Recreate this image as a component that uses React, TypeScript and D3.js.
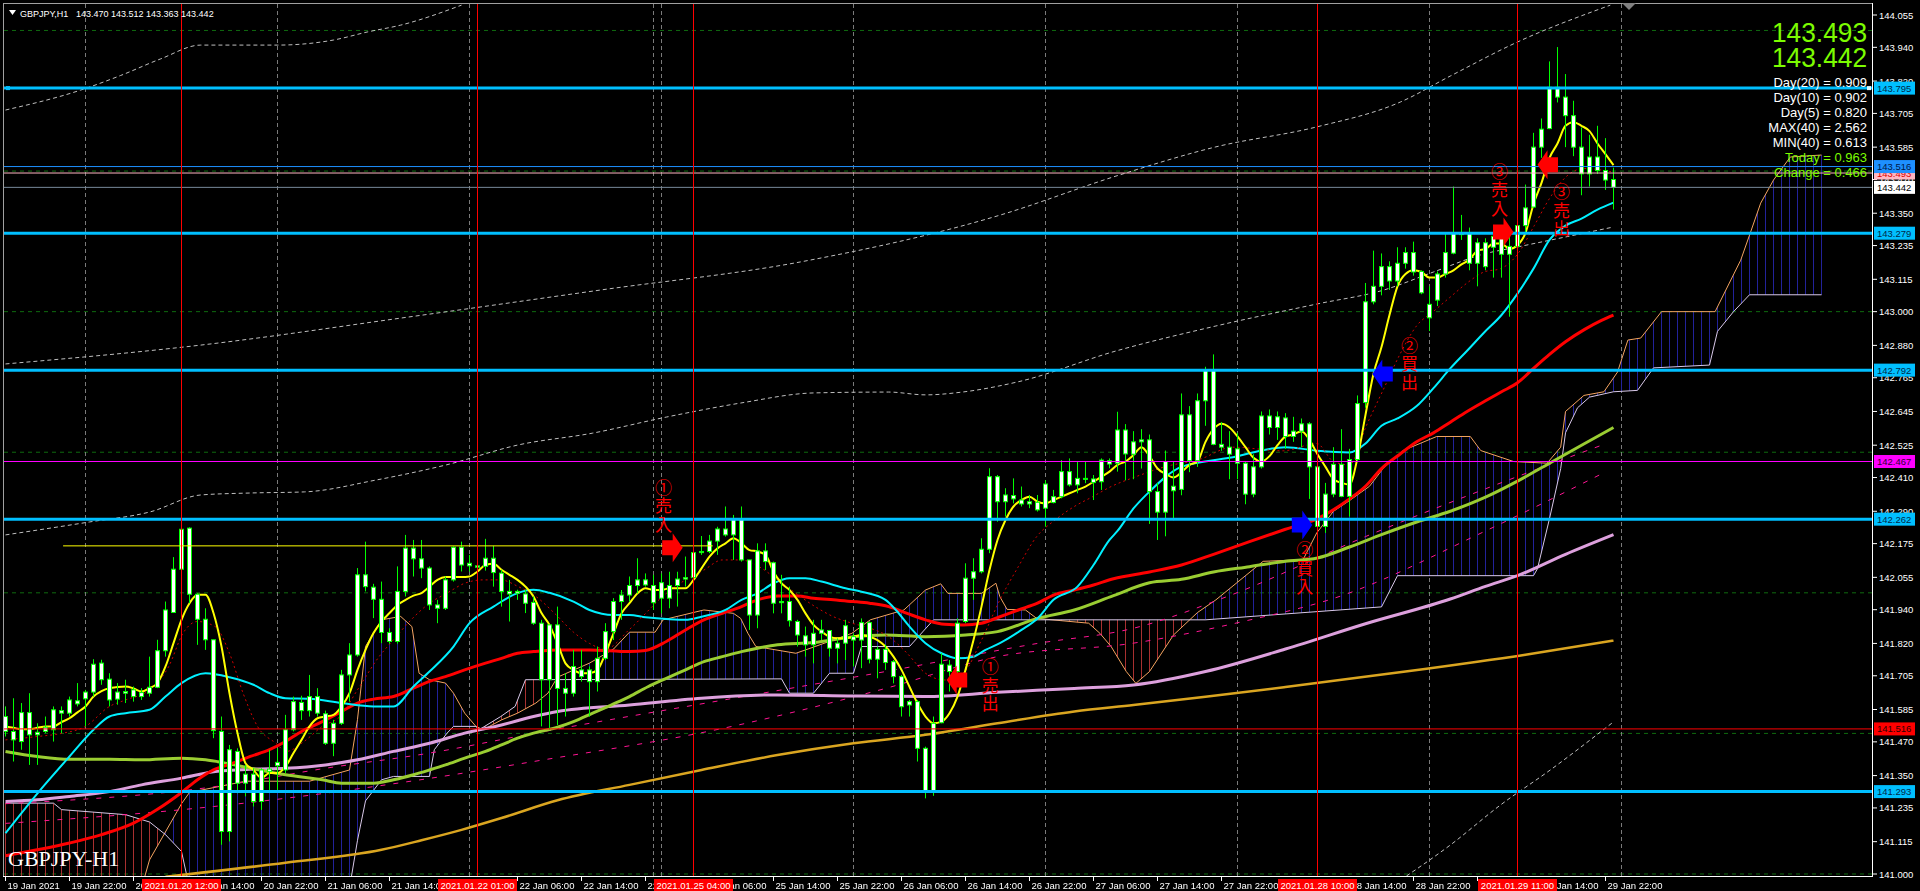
import React, { useEffect } from 'react';
import * as d3 from 'd3';

// ---------------- data ----------------
const headerSymbol = 'GBPJPY,H1';
const headerQuote = '143.470 143.512 143.363 143.442';
const watermark = 'GBPJPY-H1';
const bigQuotes = ['143.493', '143.442'];
const infoLines: [string, string][] = [
  ['Day(20) = 0.909', '#FFFFFF'], ['Day(10) = 0.902', '#FFFFFF'], ['Day(5) = 0.820', '#FFFFFF'],
  ['MAX(40) = 2.562', '#FFFFFF'], ['MIN(40) = 0.613', '#FFFFFF'], ['Today = 0.963', '#7CFC00'], ['Change = 0.466', '#7CFC00'],
];

const priceTicks = [144.055, 143.94, 143.82, 143.705, 143.585, 143.47, 143.35, 143.235, 143.115, 143.0, 142.88, 142.765, 142.645, 142.525, 142.41, 142.29, 142.175, 142.055, 141.94, 141.82, 141.705, 141.585, 141.47, 141.35, 141.235, 141.115, 141.0];

const timeLabels: [number, string][] = [
  [0, '19 Jan 2021'], [8, '19 Jan 22:00'], [16, '20 Jan 06:00'], [24, '20 Jan 14:00'], [32, '20 Jan 22:00'], [40, '21 Jan 06:00'],
  [48, '21 Jan 14:00'], [56, '21 Jan 22:00'], [64, '22 Jan 06:00'], [72, '22 Jan 14:00'], [80, '22 Jan 22:00'], [88, '25 Jan 06:00'],
  [96, '25 Jan 14:00'], [104, '25 Jan 22:00'], [112, '26 Jan 06:00'], [120, '26 Jan 14:00'], [128, '26 Jan 22:00'], [136, '27 Jan 06:00'],
  [144, '27 Jan 14:00'], [152, '27 Jan 22:00'], [160, '28 Jan 06:00'], [168, '28 Jan 14:00'], [176, '28 Jan 22:00'], [184, '29 Jan 06:00'],
  [192, '29 Jan 14:00'], [200, '29 Jan 22:00'],
];
const markerTimes: [number, string][] = [[22, '2021.01.20 12:00'], [59, '2021.01.22 01:00'], [86, '2021.01.25 04:00'], [164, '2021.01.28 10:00'], [189, '2021.01.29 11:00']];
const daySeparators = [10, 34, 58, 81, 82, 106, 130, 154, 178, 202];
const roundLevels = [141.0, 141.5, 142.0, 142.5, 143.0, 143.5, 144.0];
const cyanLevels = [143.795, 143.279, 142.792, 142.262, 141.293];
// [price, line colour, box colour, text colour]
const otherLevels: [number, string, string, string][] = [
  [143.493, '#FFB6C1', '#FFB6C1', '#E00000'],
  [143.516, '#1E90FF', '#1E90FF', '#001848'],
  [143.442, '#778899', '#FFFFFF', '#000000'],
  [142.467, '#FF00FF', '#FF00FF', '#300030'],
  [141.516, '#FF0000', '#FF0000', '#300000'],
];
const yellowLevel = { price: 142.167, from: 7.2, to: 88.4 };

// candles: [open, high, low, close]
const ohlc: [number, number, number, number][] = [
  [141.560, 141.596, 141.489, 141.507], [141.507, 141.625, 141.400, 141.477], [141.471, 141.608, 141.442, 141.574], [141.574, 141.643, 141.388, 141.495],
  [141.495, 141.536, 141.388, 141.504], [141.507, 141.560, 141.501, 141.522], [141.513, 141.596, 141.471, 141.584], [141.581, 141.596, 141.501, 141.572],
  [141.572, 141.631, 141.560, 141.619], [141.616, 141.679, 141.596, 141.605], [141.623, 141.655, 141.525, 141.647], [141.647, 141.764, 141.631, 141.746],
  [141.750, 141.762, 141.673, 141.691], [141.693, 141.714, 141.596, 141.619], [141.622, 141.679, 141.602, 141.647], [141.643, 141.691, 141.608, 141.649],
  [141.655, 141.667, 141.613, 141.631], [141.631, 141.661, 141.619, 141.645], [141.643, 141.773, 141.631, 141.664], [141.664, 141.833, 141.661, 141.794],
  [141.794, 141.969, 141.773, 141.939], [141.930, 142.127, 141.928, 142.084], [142.084, 142.319, 142.070, 142.226], [142.230, 142.233, 141.963, 141.995],
  [141.995, 141.999, 141.815, 141.906], [141.906, 141.945, 141.797, 141.833], [141.833, 141.833, 141.483, 141.510], [141.507, 141.560, 141.104, 141.151],
  [141.151, 141.459, 141.116, 141.442], [141.436, 141.447, 141.287, 141.323], [141.323, 141.388, 141.276, 141.355], [141.355, 141.376, 141.240, 141.258],
  [141.258, 141.376, 141.228, 141.370], [141.373, 141.442, 141.299, 141.365], [141.385, 141.447, 141.299, 141.397], [141.370, 141.566, 141.359, 141.513],
  [141.513, 141.631, 141.507, 141.613], [141.610, 141.634, 141.548, 141.581], [141.581, 141.708, 141.560, 141.631], [141.631, 141.661, 141.560, 141.572],
  [141.570, 141.581, 141.459, 141.465], [141.465, 141.548, 141.419, 141.536], [141.536, 141.726, 141.530, 141.708], [141.708, 141.821, 141.613, 141.779],
  [141.779, 142.088, 141.773, 142.064], [142.064, 142.182, 142.005, 142.022], [142.020, 142.032, 141.910, 141.977], [141.977, 142.040, 141.821, 141.859],
  [141.859, 141.874, 141.819, 141.827], [141.827, 142.094, 141.819, 142.005], [142.005, 142.206, 141.987, 142.159], [142.159, 142.188, 142.058, 142.121],
  [142.121, 142.188, 142.052, 142.088], [142.088, 142.094, 141.939, 141.957], [141.957, 141.975, 141.892, 141.945], [141.945, 142.058, 141.939, 142.046],
  [142.046, 142.165, 142.040, 142.162], [142.162, 142.182, 142.076, 142.099], [142.105, 142.135, 142.076, 142.096], [142.096, 142.129, 142.082, 142.091],
  [142.094, 142.192, 142.079, 142.123], [142.123, 142.167, 142.022, 142.072], [142.070, 142.082, 141.951, 142.005], [142.005, 142.046, 141.898, 141.996],
  [141.999, 142.011, 141.975, 142.005], [141.996, 142.011, 141.928, 141.963], [141.966, 141.987, 141.886, 141.892], [141.892, 141.904, 141.525, 141.691],
  [141.691, 141.886, 141.513, 141.886], [141.886, 141.951, 141.530, 141.660], [141.660, 141.714, 141.560, 141.643], [141.643, 141.797, 141.631, 141.738],
  [141.726, 141.797, 141.684, 141.702], [141.726, 141.738, 141.560, 141.684], [141.684, 141.809, 141.649, 141.767], [141.767, 141.892, 141.761, 141.862],
  [141.862, 141.981, 141.832, 141.969], [141.969, 142.010, 141.904, 141.992], [141.992, 142.058, 141.969, 142.026], [142.026, 142.123, 141.998, 142.046],
  [142.046, 142.069, 142.022, 142.028], [142.026, 142.064, 141.939, 141.965], [142.036, 142.069, 141.927, 141.981], [141.981, 142.075, 141.945, 142.026],
  [142.026, 142.075, 141.951, 142.049], [142.049, 142.129, 142.022, 142.054], [142.054, 142.158, 142.046, 142.143], [142.143, 142.202, 142.135, 142.147],
  [142.147, 142.206, 142.141, 142.184], [142.184, 142.235, 142.135, 142.227], [142.227, 142.307, 142.200, 142.206], [142.206, 142.277, 142.117, 142.262],
  [142.262, 142.307, 142.111, 142.117], [142.117, 142.117, 141.868, 141.921], [141.921, 142.176, 141.874, 142.149], [142.149, 142.176, 142.081, 142.111],
  [142.107, 142.111, 141.927, 141.963], [141.965, 142.064, 141.927, 141.969], [141.969, 142.022, 141.880, 141.901], [141.898, 141.904, 141.809, 141.850],
  [141.847, 141.880, 141.773, 141.815], [141.815, 141.904, 141.749, 141.856], [141.856, 141.904, 141.832, 141.868], [141.866, 141.868, 141.773, 141.803],
  [141.803, 141.838, 141.749, 141.821], [141.821, 141.904, 141.761, 141.883], [141.844, 141.856, 141.738, 141.832], [141.832, 141.909, 141.732, 141.894],
  [141.894, 141.898, 141.749, 141.764], [141.764, 141.809, 141.696, 141.799], [141.799, 141.815, 141.726, 141.752], [141.755, 141.761, 141.678, 141.702],
  [141.702, 141.708, 141.560, 141.595], [141.601, 141.619, 141.560, 141.613], [141.613, 141.619, 141.400, 141.447], [141.447, 141.453, 141.269, 141.297],
  [141.297, 141.560, 141.278, 141.536], [141.538, 141.785, 141.536, 141.746], [141.743, 141.761, 141.649, 141.720], [141.720, 141.909, 141.702, 141.892],
  [141.898, 142.105, 141.892, 142.052], [142.052, 142.123, 141.975, 142.075], [142.075, 142.194, 142.069, 142.155], [142.155, 142.443, 142.141, 142.413],
  [142.413, 142.419, 142.253, 142.324], [142.324, 142.372, 142.271, 142.348], [142.346, 142.407, 142.318, 142.334], [142.330, 142.378, 142.307, 142.316],
  [142.316, 142.348, 142.301, 142.324], [142.322, 142.348, 142.289, 142.295], [142.301, 142.401, 142.235, 142.387], [142.321, 142.366, 142.318, 142.342],
  [142.342, 142.472, 142.336, 142.431], [142.431, 142.478, 142.378, 142.384], [142.384, 142.467, 142.354, 142.407], [142.407, 142.467, 142.390, 142.404],
  [142.405, 142.419, 142.330, 142.392], [142.395, 142.478, 142.366, 142.472], [142.470, 142.478, 142.443, 142.458], [142.461, 142.644, 142.431, 142.579],
  [142.579, 142.600, 142.400, 142.494], [142.493, 142.575, 142.404, 142.537], [142.537, 142.582, 142.442, 142.544], [142.544, 142.563, 142.245, 142.360],
  [142.360, 142.391, 142.188, 142.287], [142.287, 142.506, 142.201, 142.467], [142.363, 142.467, 142.258, 142.379], [142.368, 142.709, 142.347, 142.633],
  [142.633, 142.664, 142.429, 142.470], [142.470, 142.709, 142.448, 142.683], [142.683, 142.804, 142.594, 142.791], [142.791, 142.848, 142.525, 142.528],
  [142.528, 142.607, 142.505, 142.518], [142.518, 142.575, 142.404, 142.493], [142.512, 142.569, 142.404, 142.461], [142.461, 142.467, 142.315, 142.351],
  [142.351, 142.493, 142.340, 142.448], [142.448, 142.645, 142.442, 142.629], [142.629, 142.652, 142.563, 142.588], [142.588, 142.645, 142.544, 142.626],
  [142.622, 142.639, 142.512, 142.556], [142.556, 142.626, 142.537, 142.575], [142.575, 142.620, 142.518, 142.601], [142.601, 142.607, 142.334, 142.448],
  [142.448, 142.455, 142.220, 142.236], [142.236, 142.391, 142.213, 142.351], [142.351, 142.518, 142.340, 142.457], [142.457, 142.582, 142.340, 142.343],
  [142.343, 142.512, 142.271, 142.474], [142.474, 142.702, 142.467, 142.673], [142.677, 143.102, 142.658, 143.035], [143.035, 143.217, 143.026, 143.090],
  [143.090, 143.207, 143.058, 143.160], [143.160, 143.179, 143.077, 143.109], [143.109, 143.229, 143.090, 143.172], [143.172, 143.229, 143.153, 143.210],
  [143.210, 143.249, 143.128, 143.141], [143.143, 143.147, 143.062, 143.067], [143.026, 143.090, 142.931, 142.978], [143.041, 143.143, 143.020, 143.134],
  [143.134, 143.280, 143.121, 143.210], [143.208, 143.445, 143.204, 143.280], [143.280, 143.344, 143.255, 143.274], [143.280, 143.299, 143.147, 143.172],
  [143.172, 143.261, 143.090, 143.245], [143.245, 143.261, 143.147, 143.160], [143.229, 143.306, 143.121, 143.268], [143.268, 143.306, 143.121, 143.204],
  [143.204, 143.287, 142.982, 143.232], [143.232, 143.356, 143.166, 143.306], [143.306, 143.452, 143.274, 143.369], [143.372, 143.636, 143.369, 143.585],
  [143.585, 143.687, 143.547, 143.649], [143.651, 143.890, 143.649, 143.798], [143.798, 143.941, 143.744, 143.763], [143.763, 143.845, 143.585, 143.697],
  [143.697, 143.750, 143.553, 143.585], [143.585, 143.655, 143.414, 143.490], [143.490, 143.629, 143.445, 143.550], [143.550, 143.661, 143.490, 143.502],
  [143.502, 143.617, 143.433, 143.468], [143.470, 143.512, 143.363, 143.442],
];

// fast yellow average, one value per bar
const fastMA = [
  141.525, 141.520, 141.515, 141.515, 141.520, 141.525, 141.525, 141.540, 141.554, 141.575, 141.596, 141.631, 141.650, 141.661, 141.665, 141.667,
  141.660, 141.649, 141.661, 141.679, 141.738, 141.821, 141.904, 141.963, 141.993, 141.993, 141.928, 141.809, 141.643, 141.501, 141.394, 141.370,
  141.341, 141.359, 141.359, 141.382, 141.430, 141.477, 141.525, 141.554, 141.560, 141.566, 141.596, 141.643, 141.726, 141.797, 141.857, 141.898,
  141.928, 141.957, 141.975, 141.990, 141.999, 142.022, 142.046, 142.056, 142.056, 142.056, 142.058, 142.076, 142.099, 142.103, 142.082, 142.064,
  142.046, 142.022, 141.987, 141.928, 141.886, 141.820, 141.749, 141.726, 141.714, 141.714, 141.726, 141.785, 141.856, 141.927, 141.963, 141.998,
  142.016, 142.010, 142.010, 142.016, 142.016, 142.016, 142.046, 142.087, 142.129, 142.158, 142.176, 142.194, 142.176, 142.152, 142.147, 142.135,
  142.075, 142.034, 142.010, 141.975, 141.927, 141.886, 141.862, 141.844, 141.838, 141.838, 141.844, 141.850, 141.844, 141.832, 141.809, 141.773,
  141.726, 141.666, 141.607, 141.560, 141.536, 141.542, 141.572, 141.631, 141.726, 141.832, 141.951, 142.081, 142.188, 142.259, 142.307, 142.330,
  142.342, 142.324, 142.318, 142.330, 142.342, 142.354, 142.366, 142.378, 142.395, 142.413, 142.431, 142.455, 142.467, 142.490, 142.518, 142.486,
  142.442, 142.423, 142.410, 142.429, 142.455, 142.467, 142.537, 142.582, 142.601, 142.588, 142.556, 142.518, 142.480, 142.467, 142.486, 142.525,
  142.556, 142.563, 142.575, 142.544, 142.493, 142.448, 142.404, 142.391, 142.385, 142.480, 142.633, 142.779, 142.874, 142.988, 143.090, 143.134,
  143.147, 143.141, 143.121, 143.121, 143.134, 143.147, 143.168, 143.185, 143.217, 143.223, 143.242, 143.242, 143.223, 143.236, 143.280, 143.382,
  143.458, 143.547, 143.598, 143.661, 143.674, 143.661, 143.642, 143.598, 143.560, 143.521,
];

// other lines read as [bar index, price]
const dottedMA: [number, number][] = [
  [0, 141.477], [4, 141.489], [7, 141.5], [10, 141.525], [13, 141.596], [15, 141.619], [18, 141.655], [20.4, 141.738], [22.2, 141.857], [24, 141.898],
  [26.2, 141.88], [28, 141.785], [29.7, 141.643], [31.5, 141.525], [33.8, 141.465], [35.1, 141.436], [37.3, 141.471], [39.6, 141.525], [41.8, 141.56],
  [44, 141.655], [46.7, 141.773], [48.5, 141.833], [50.7, 141.904], [53, 141.963], [55.2, 141.999], [57.4, 142.034], [59.7, 142.046], [61.9, 142.046],
  [64.1, 142.022], [66.3, 141.987], [68.6, 141.928], [71, 141.86], [73, 141.82], [75, 141.80], [78, 141.87], [82.6, 141.998], [85, 142.046],
  [87.3, 142.081], [89.6, 142.117], [91.9, 142.117], [94.2, 142.093], [96.5, 142.046], [98.8, 141.998], [101.2, 141.951], [103.5, 141.915],
  [105.8, 141.892], [108.1, 141.874], [110.4, 141.844], [112.7, 141.785], [115, 141.714], [117.4, 141.69], [119.7, 141.714], [122, 141.832],
  [124.3, 141.975], [126.6, 142.093], [128.9, 142.2], [131.2, 142.259], [133.6, 142.307], [135.9, 142.342], [138.2, 142.378], [141.3, 142.413],
  [145, 142.449], [149.2, 142.474], [153.4, 142.518], [159.7, 142.505], [163.9, 142.531], [166, 142.467], [168, 142.455], [170.1, 142.594],
  [172.2, 142.721], [174.3, 142.848], [176.4, 142.95], [178.5, 143.001], [180.6, 143.052], [182.7, 143.102], [184.8, 143.141], [186.9, 143.153],
  [189, 143.204], [191.1, 143.306], [193.1, 143.407], [195.2, 143.483], [197.3, 143.509], [201, 143.496],
];
const cyanMA: [number, number][] = [
  [0, 141.145], [4, 141.287], [8, 141.418], [11, 141.513], [13, 141.56], [15, 141.572], [18, 141.584], [20, 141.631], [22, 141.679], [25, 141.714],
  [28, 141.7], [31, 141.673], [33, 141.643], [35, 141.625], [38, 141.623], [42, 141.608], [46, 141.596], [48.5, 141.596], [51, 141.667], [53, 141.72],
  [56, 141.809], [58, 141.892], [61, 141.951], [64, 141.999], [66, 142.011], [68, 142.0], [71, 141.969], [73, 141.939], [76, 141.921], [78, 141.921],
  [80, 141.913], [83, 141.906], [85, 141.904], [87, 141.915], [90, 141.939], [92, 141.975], [94, 141.998], [96, 142.034], [98, 142.052], [100, 142.052],
  [102, 142.04], [105, 142.016], [107, 142.004], [110, 141.975], [111.3, 141.939], [113, 141.88], [115, 141.821], [117, 141.785], [119, 141.767],
  [121, 141.773], [122.5, 141.797], [124.3, 141.821], [127, 141.868], [129, 141.909], [131, 141.975], [134, 142.022], [136, 142.099], [138, 142.188],
  [139, 142.22], [141, 142.3], [143, 142.36], [147, 142.448], [153, 142.48], [160, 142.518], [164, 142.505], [168, 142.499], [170, 142.531],
  [172, 142.594], [174, 142.62], [176.4, 142.664], [178.5, 142.728], [180.6, 142.798], [182.7, 142.861], [184.8, 142.925], [187, 142.988],
  [189, 143.064], [191, 143.153], [193, 143.255], [195, 143.306], [197, 143.331], [199, 143.363], [201, 143.388],
];
const redMA: [number, number][] = [
  [0, 141.065], [8, 141.11], [12, 141.14], [16, 141.181], [19, 141.23], [22, 141.29], [24, 141.335], [26, 141.37], [28.4, 141.394], [30.6, 141.418],
  [33, 141.442], [35, 141.471], [37, 141.507], [39.6, 141.542], [42, 141.578], [44, 141.608], [46, 141.622], [48.5, 141.631], [51, 141.661],
  [53, 141.685], [55, 141.702], [57.4, 141.726], [60, 141.75], [62, 141.767], [64, 141.785], [66, 141.791], [69, 141.797], [73, 141.797],
  [78, 141.791], [80, 141.795], [82.6, 141.827], [85, 141.868], [87.3, 141.904], [89.6, 141.927], [92, 141.951], [94, 141.975], [96.5, 141.989],
  [99, 141.989], [101, 141.981], [103.5, 141.975], [106, 141.969], [108, 141.963], [110.4, 141.951], [112.7, 141.927], [115, 141.904],
  [117.4, 141.888], [119.7, 141.886], [122, 141.892], [124.3, 141.915], [126.6, 141.939], [129, 141.963], [131, 141.992], [133.6, 142.01],
  [136, 142.028], [138.5, 142.05], [143, 142.074], [147, 142.099], [151, 142.137], [155.5, 142.182], [160, 142.226], [164, 142.264],
  [168, 142.334], [170, 142.379], [172, 142.442], [174.3, 142.493], [176.4, 142.537], [178.5, 142.569], [180.6, 142.607], [182.7, 142.645],
  [185, 142.683], [187, 142.715], [189, 142.747], [191, 142.798], [193, 142.848], [195, 142.893], [197.4, 142.937], [199.5, 142.969], [201, 142.988],
];
const greenMA: [number, number][] = [
  [0, 141.436], [4, 141.418], [8, 141.408], [13, 141.408], [17, 141.406], [22, 141.412], [25, 141.406], [27, 141.397], [30.6, 141.376], [35, 141.353],
  [39.6, 141.335], [42, 141.323], [46, 141.323], [48.5, 141.335], [51, 141.353], [53, 141.37], [55, 141.388], [57.4, 141.412], [60, 141.436],
  [62, 141.459], [64, 141.483], [66, 141.501], [69, 141.522], [71, 141.542], [73.4, 141.572], [75.7, 141.601], [78, 141.631], [80.3, 141.666],
  [82.6, 141.696], [85, 141.726], [87.3, 141.755], [89.6, 141.773], [92, 141.791], [94, 141.803], [96.5, 141.815], [101, 141.823], [106, 141.844],
  [110, 141.85], [115, 141.844], [120, 141.85], [124, 141.862], [129, 141.909], [133.6, 141.939], [138.5, 141.99], [143, 142.036], [147, 142.048],
  [151, 142.074], [155.5, 142.093], [160, 142.112], [164, 142.124], [168, 142.163], [172, 142.207], [176.4, 142.252], [180.6, 142.29],
  [185, 142.34], [189, 142.397], [193, 142.461], [197.4, 142.531], [201, 142.588],
];
const plumMA: [number, number][] = [
  [0, 141.258], [4, 141.264], [8, 141.276], [13, 141.293], [17, 141.317], [22, 141.341], [26, 141.364], [31, 141.373], [35, 141.376], [40, 141.388],
  [44, 141.406], [48.5, 141.436], [53, 141.465], [57.4, 141.501], [62, 141.53], [66, 141.56], [69, 141.578], [78, 141.601], [87, 141.625],
  [96.5, 141.637], [106, 141.633], [115, 141.631], [124, 141.646], [133.6, 141.66], [141, 141.672], [150, 141.72], [160, 141.8], [170, 141.89],
  [180.6, 141.978], [185, 142.023], [189, 142.061], [195, 142.137], [201, 142.207],
];
const orangeMA: [number, number][] = [
  [20, 140.99], [35, 141.04], [47, 141.086], [52, 141.12], [57, 141.157], [62, 141.199], [69, 141.262], [78, 141.317], [87, 141.37], [96.5, 141.423],
  [106, 141.465], [115, 141.495], [124, 141.536], [133.6, 141.578], [141, 141.601], [150, 141.63], [160, 141.665], [175, 141.72], [190, 141.78], [201, 141.83],
];
const pinkUpper: [number, number][] = [
  [0, 141.25], [26, 141.31], [40, 141.376], [53, 141.43], [66, 141.5], [90, 141.62], [110, 141.72], [129, 141.82], [141, 141.874], [153, 141.99],
  [170, 142.2], [185, 142.37], [200, 142.53],
];
const pinkLower: [number, number][] = [
  [0, 141.18], [26, 141.24], [53, 141.34], [66, 141.4], [90, 141.52], [110, 141.66], [124, 141.773], [141, 141.821], [155, 141.9], [166, 141.98],
  [185, 142.22], [200, 142.43],
];
const bandOuter: [number, number][] = [
  [0, 143.717], [9.4, 143.788], [14.4, 143.84], [19.4, 143.899], [24.4, 143.948], [34, 143.948], [41, 143.966], [45.3, 143.995], [49.4, 144.019], [57, 144.09],
];
const bandMiddle: [number, number][] = [
  [0, 142.814], [24.4, 142.881], [49.4, 142.977], [74.4, 143.077], [99.4, 143.177], [124.4, 143.344], [138.8, 143.482], [151.3, 143.586],
  [163.9, 143.657], [174.4, 143.746], [180.6, 143.838], [189, 143.959], [200.6, 144.09],
];
const bandInner: [number, number][] = [
  [0, 142.206], [10.5, 142.252], [18.1, 142.288], [24.4, 142.348], [30.6, 142.355], [37.4, 142.359], [46.3, 142.401], [55.1, 142.455], [64.1, 142.526],
  [73.4, 142.568], [82.6, 142.625], [91.9, 142.675], [101.1, 142.711], [110.4, 142.714], [115, 142.704], [119.6, 142.714], [126.5, 142.75],
  [138.8, 142.86], [151.3, 142.949], [163.9, 143.027], [172.3, 143.077], [178.5, 143.141], [184.8, 143.205], [189, 143.23], [201, 143.301],
];
const bandLower: [number, number][] = [[174.4, 140.979], [180.6, 141.103], [186.9, 141.246], [193.1, 141.37], [201, 141.541]];

// Ichimoku spans (shifted 26 bars ahead)
const spanA: [number, number][] = [
  [0, 140.95], [17, 140.95], [18, 141.05], [22, 141.25], [23, 141.29], [30, 141.33], [38, 141.33], [43, 141.37], [44, 141.55], [45, 141.809],
  [47, 141.904], [49.4, 141.916], [50.8, 141.88], [51.7, 141.714], [53, 141.691], [55, 141.679], [56, 141.643], [57.4, 141.572], [58.8, 141.525],
  [59.7, 141.513], [62, 141.548], [64, 141.572], [66.3, 141.608], [67.8, 141.643], [69, 141.7], [73, 141.75], [76, 141.8], [78, 141.86], [81.2, 141.86],
  [82.2, 141.904], [87.3, 141.939], [91, 141.927], [91.9, 141.909], [92.8, 141.856], [93.8, 141.809], [98.8, 141.785], [101.2, 141.809],
  [105.8, 141.856], [108.1, 141.904], [112.3, 141.939], [115, 142.01], [116.9, 142.032], [117.8, 141.998], [122, 141.998], [123.8, 142.034],
  [124.3, 141.986], [125.2, 141.941], [127.5, 141.939], [128.9, 141.909], [135.4, 141.892], [136.8, 141.856], [138.2, 141.809], [140.1, 141.72],
  [141.3, 141.678], [143, 141.72], [146, 141.85], [149, 141.93], [151.3, 141.975], [157.2, 142.112], [162.2, 142.118], [163.9, 142.213],
  [166, 142.29], [168, 142.328], [170.5, 142.379], [172.2, 142.442], [174.7, 142.506], [178.9, 142.556], [183.1, 142.556], [184.4, 142.506],
  [188.5, 142.467], [192.7, 142.461], [194.4, 142.518], [195, 142.645], [197.3, 142.702], [199.8, 142.715], [201.5, 142.785], [202.8, 142.899],
  [204.4, 142.906], [207, 143.0], [213.7, 143.0], [216.9, 143.183], [218.1, 143.28], [219.4, 143.386], [221, 143.468], [223.1, 143.55], [227, 143.557],
];
const spanB: [number, number][] = [
  [0, 141.252], [6, 141.252], [7, 141.229], [15, 141.211], [18, 141.185], [20, 141.14], [22, 141.08], [23, 140.95], [43, 140.95], [44, 141.12],
  [45, 141.26], [47, 141.335], [48.5, 141.347], [53, 141.347], [53.6, 141.442], [55.2, 141.501], [56, 141.525], [58.8, 141.525], [59.2, 141.513],
  [61.9, 141.56], [63.7, 141.596], [65, 141.691], [97, 141.694], [98, 141.643], [101, 141.643], [103, 141.714], [106, 141.714], [107, 141.809],
  [113, 141.809], [116, 141.904], [150, 141.904], [172, 141.95], [174, 142.061], [191, 142.061], [191.5, 142.086], [193, 142.264], [194.4, 142.442],
  [195, 142.569], [196.5, 142.658], [198, 142.696], [201, 142.715], [204, 142.72], [206, 142.8], [213, 142.81], [214, 142.93], [216, 143.0],
  [218, 143.06], [227, 143.06],
];

// trade arrows: [bar index, price, direction (1 right / -1 left), colour]
const arrows: [number, number, number, string][] = [
  [83.4, 142.16, 1, '#FF0000'], [118.9, 141.69, -1, '#FF0000'], [162.1, 142.241, 1, '#0000FF'],
  [172.1, 142.778, -1, '#0000FF'], [187.25, 143.283, 1, '#FF0000'], [192.75, 143.522, -1, '#FF0000'],
];
// vertical notes: [bar index, price of first glyph, text]
const notes: [number, number, string][] = [
  [82.25, 142.373, '①売入'], [123.1, 141.735, '①売出'], [162.4, 142.151, '②買入'],
  [175.5, 142.878, '②買出'], [186.75, 143.498, '③売入'], [194.5, 143.424, '③売出'],
];

const SANS = '"Liberation Sans", Arial, sans-serif';
const CJK = '"Noto Sans CJK JP", "Noto Sans CJK SC", sans-serif';

export default function App() {
  useEffect(() => {
    document.body.style.margin = '0';
    document.body.style.background = '#000';
    document.body.style.overflow = 'hidden';
  }, []);

  const W = 1920, H = 891;
  const L = 4, R = 1872, T = 4, B = 876;
  const xs = d3.scaleLinear().domain([0, 201]).range([5.5, 1613.5]);
  const ys = d3.scaleLinear().domain([141.0, 144.055]).range([874, 15]);

  const smooth = d3.line<[number, number]>().x(d => xs(d[0])).y(d => ys(d[1])).curve(d3.curveMonotoneX);
  const straight = d3.line<[number, number]>().x(d => xs(d[0])).y(d => ys(d[1]));
  const perBar = d3.line<number>().x((_, i) => xs(i)).y(d => ys(d)).curve(d3.curveMonotoneX);
  const ext = (p: [number, number][]): [number, number][] => [[p[0][0] - 0.1, p[0][1]], ...p, [p[p.length - 1][0] + 0.1, p[p.length - 1][1]]];
  const below = (p: [number, number][]) => d3.area<[number, number]>().x(d => xs(d[0])).y0(H + 20).y1(d => ys(d[1]))(ext(p)) || '';
  const above = (p: [number, number][]) => d3.area<[number, number]>().x(d => xs(d[0])).y0(-20).y1(d => ys(d[1]))(ext(p)) || '';

  const arrowPath = (cx: number, cy: number, dir: number) => {
    const bw = 10.5, hw = 10, bh = 7.5, hh = 14.5;
    const x0 = cx - dir * bw, xm = cx, x1 = cx + dir * hw;
    return `M${x0},${cy - bh}L${xm},${cy - bh}L${xm},${cy - hh}L${x1},${cy}L${xm},${cy + hh}L${xm},${cy + bh}L${x0},${cy + bh}Z`;
  };

  const levelBox = (v: number, box: string, txt: string, key: string) => (
    <g key={key}>
      <rect x={1874} y={ys(v) - 6.5} width={41} height={13} fill={box} />
      <text x={1877} y={ys(v) + 3.5} fontSize={9.5} fontFamily={SANS} fill={txt}>{v.toFixed(3)}</text>
    </g>
  );

  return (
    <svg width={W} height={H} style={{ position: 'absolute', left: 0, top: 0, display: 'block', background: '#000' }}>
      <defs>
        <clipPath id="plot"><rect x={L} y={T} width={R - L} height={B - T} /></clipPath>
        <pattern id="hatchBlue" patternUnits="userSpaceOnUse" x={5} y={0} width={8} height={H}>
          <rect x={0} y={0} width={1} height={H} fill="#22229A" />
        </pattern>
        <pattern id="hatchRed" patternUnits="userSpaceOnUse" x={5} y={0} width={8} height={H}>
          <rect x={0} y={0} width={1} height={H} fill="#A83030" />
        </pattern>
        <clipPath id="belowA"><path d={below(spanA)} /></clipPath>
        <clipPath id="aboveA"><path d={above(spanA)} /></clipPath>
        <clipPath id="belowB"><path d={below(spanB)} /></clipPath>
        <clipPath id="aboveB"><path d={above(spanB)} /></clipPath>
        <mask id="timeMask" maskUnits="userSpaceOnUse" x={0} y={0} width={W} height={H}>
          <rect x={0} y={0} width={W} height={H} fill="#FFFFFF" />
          {markerTimes.map(([i]) => (
            <rect key={'mk' + i} x={xs(i) - 39.5} y={877} width={79} height={14} fill="#000000" />
          ))}
        </mask>
      </defs>
      <rect x={0} y={0} width={W} height={H} fill="#000" />

      <g clipPath="url(#plot)">
        {roundLevels.map(v => (
          <line key={'g' + v} x1={L} x2={R} y1={ys(v)} y2={ys(v)} stroke="#0F6A0F" strokeDasharray="4,4" />
        ))}
        {daySeparators.map(i => (
          <line key={'d' + i} x1={xs(i)} x2={xs(i)} y1={T} y2={B} stroke="#7A7A7A" strokeDasharray="4,3" />
        ))}

        {/* Ichimoku cloud */}
        <g clipPath="url(#belowA)"><rect x={0} y={0} width={W} height={H} fill="url(#hatchBlue)" clipPath="url(#aboveB)" /></g>
        <g clipPath="url(#belowB)"><rect x={0} y={0} width={W} height={H} fill="url(#hatchRed)" clipPath="url(#aboveA)" /></g>
        <path d={straight(spanA) || ''} fill="none" stroke="#F4A460" strokeWidth={1} />
        <path d={straight(spanB) || ''} fill="none" stroke="#D8C8E8" strokeWidth={1} />

        {/* bands */}
        {[bandOuter, bandMiddle, bandInner, bandLower].map((b, k) => (
          <path key={'b' + k} d={smooth(b) || ''} fill="none" stroke="#BFBFBF" strokeWidth={1} strokeDasharray="4,3" />
        ))}
        <path d={smooth(pinkUpper) || ''} fill="none" stroke="#FF1493" strokeWidth={1} strokeDasharray="5,8" />
        <path d={smooth(pinkLower) || ''} fill="none" stroke="#FF1493" strokeWidth={1} strokeDasharray="5,8" />

        {/* moving averages */}
        <path d={smooth(orangeMA) || ''} fill="none" stroke="#DAA520" strokeWidth={2.5} />
        <path d={smooth(plumMA) || ''} fill="none" stroke="#DDA0DD" strokeWidth={3} />
        <path d={smooth(greenMA) || ''} fill="none" stroke="#9ACD32" strokeWidth={3} />
        <path d={smooth(redMA) || ''} fill="none" stroke="#FF0000" strokeWidth={3} />
        <path d={smooth(cyanMA) || ''} fill="none" stroke="#00F0FF" strokeWidth={2} />
        <path d={smooth(dottedMA) || ''} fill="none" stroke="#D00000" strokeWidth={1} strokeDasharray="2,3" />
        <path d={perBar(fastMA) || ''} fill="none" stroke="#FFFF00" strokeWidth={2} />

        {/* candles */}
        {ohlc.map((c, i) => {
          const cx = xs(i);
          const top = ys(Math.max(c[0], c[3]));
          const bot = ys(Math.min(c[0], c[3]));
          return (
            <g key={'c' + i}>
              <line x1={cx} x2={cx} y1={ys(c[1])} y2={ys(c[2])} stroke="#00FF00" strokeWidth={1} />
              <rect x={cx - 2} y={top} width={4} height={Math.max(1, bot - top)} fill="#FFFFFF" stroke="#00FF00" strokeWidth={1} />
            </g>
          );
        })}

        {/* objects */}
        <line x1={xs(yellowLevel.from)} x2={xs(yellowLevel.to)} y1={ys(yellowLevel.price)} y2={ys(yellowLevel.price)} stroke="#FFFF00" strokeWidth={1} />
        {otherLevels.map(([v, col]) => (
          <line key={'o' + v} x1={L} x2={R} y1={ys(v)} y2={ys(v)} stroke={col} strokeWidth={1} />
        ))}
        {cyanLevels.map(v => (
          <line key={'cy' + v} x1={L} x2={R} y1={ys(v)} y2={ys(v)} stroke="#00BFFF" strokeWidth={3} />
        ))}
        <rect x={L + 2} y={ys(cyanLevels[0]) - 2} width={4} height={4} fill="#00BFFF" />
        <rect x={R - 5} y={ys(cyanLevels[0]) - 2} width={4} height={4} fill="#E0F8FF" />
        {markerTimes.map(([i]) => (
          <line key={'r' + i} x1={xs(i)} x2={xs(i)} y1={T} y2={B} stroke="#FF0000" strokeWidth={1} />
        ))}

        {arrows.map(([i, p, dir, col], k) => (
          <path key={'a' + k} d={arrowPath(xs(i), ys(p), dir)} fill={col} />
        ))}
        {notes.map(([i, p, txt], k) => (
          <g key={'n' + k}>
            {Array.from(txt).map((ch, j) => (
              <text key={j} x={xs(i)} y={ys(p) + j * 18.5 + 6} fontSize={17} fontFamily={CJK} fill="#FF0000"
                textAnchor="middle">{ch}</text>
            ))}
          </g>
        ))}
      </g>

      {/* frame */}
      <line x1={3.5} x2={3.5} y1={3} y2={877} stroke="#A0A0A0" />
      <line x1={3} x2={1873} y1={3.5} y2={3.5} stroke="#A0A0A0" />
      <line x1={1872.5} x2={1872.5} y1={3} y2={877} stroke="#FFFFFF" />
      <line x1={3} x2={1873} y1={876.5} y2={876.5} stroke="#FFFFFF" />
      <path d="M1622,3L1636,3L1629,10Z" fill="#808080" />

      {/* header */}
      <path d="M9,10L16,10L12.5,15Z" fill="#FFFFFF" />
      <text x={20} y={17} fontSize={9} fontFamily={SANS} fill="#FFFFFF">{headerSymbol}</text>
      <text x={76} y={17} fontSize={9} fontFamily={SANS} fill="#FFFFFF">{headerQuote}</text>

      {/* info block */}
      {bigQuotes.map((q, k) => (
        <text key={'q' + k} x={1867} y={42 + k * 25} fontSize={28} fontFamily={SANS} fill="#7CFC00" textAnchor="end"
          textLength={95} lengthAdjust="spacingAndGlyphs">{q}</text>
      ))}
      {infoLines.map(([t, col], k) => (
        <text key={'i' + k} x={1867} y={87 + k * 15} fontSize={13} fontFamily={SANS} fill={col} textAnchor="end">{t}</text>
      ))}

      <text x={8} y={866} fontSize={22} fontFamily='"Liberation Serif", "Times New Roman", serif' fill="#FFFFFF">{watermark}</text>

      {/* price axis */}
      {priceTicks.map(v => (
        <g key={'t' + v}>
          <line x1={1873} x2={1877} y1={ys(v)} y2={ys(v)} stroke="#FFFFFF" />
          <text x={1879} y={ys(v) + 3.5} fontSize={9.5} fontFamily={SANS} fill="#FFFFFF">{v.toFixed(3)}</text>
        </g>
      ))}
      {otherLevels.map(([v, , box, txt]) => levelBox(v, box, txt, 'lb' + v))}
      {cyanLevels.map(v => levelBox(v, '#00BFFF', '#002848', 'cb' + v))}

      {/* time axis: regular labels are hidden where the red time boxes sit */}
      <g mask="url(#timeMask)">
        {timeLabels.map(([i, t]) => (
          <g key={'x' + i}>
            <line x1={xs(i)} x2={xs(i)} y1={877} y2={881} stroke="#FFFFFF" />
            <text x={xs(i) + 2} y={889} fontSize={9.5} fontFamily={SANS} fill="#FFFFFF">{t}</text>
          </g>
        ))}
      </g>
      {markerTimes.map(([i, t]) => (
        <g key={'m' + i}>
          <rect x={xs(i) - 39.5} y={879} width={79} height={12} fill="#FF0000" />
          <text x={xs(i)} y={889} fontSize={9.5} fontFamily={SANS} fill="#FFFFFF" textAnchor="middle">{t}</text>
        </g>
      ))}
    </svg>
  );
}
